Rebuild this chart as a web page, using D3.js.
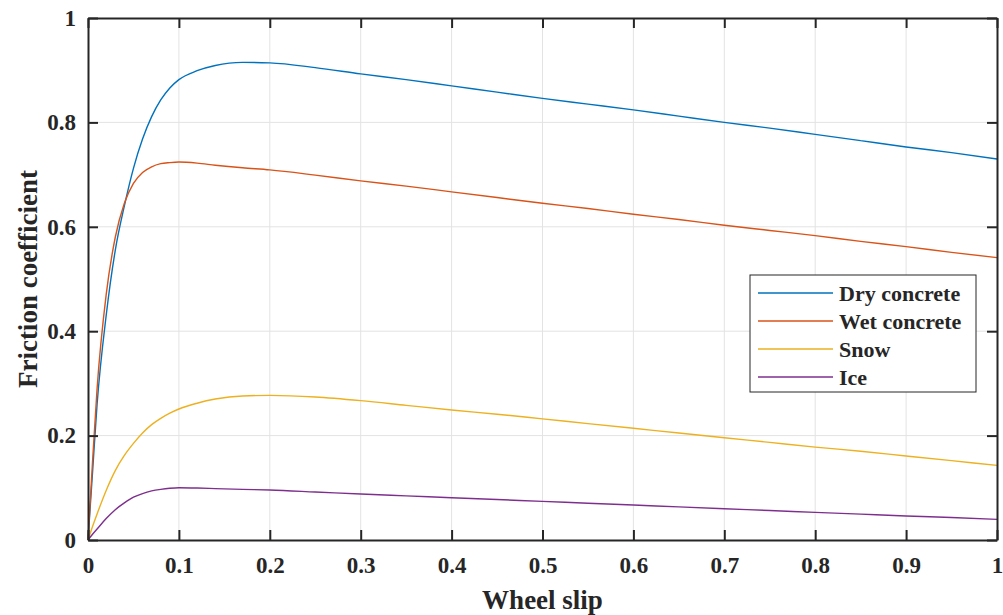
<!DOCTYPE html>
<html>
<head>
<meta charset="utf-8">
<script src="https://cdn.jsdelivr.net/npm/d3@7"></script>
<style>
  html, body { margin: 0; padding: 0; background: #ffffff; }
  svg { display: block; }
  text { font-family: "Liberation Serif", "Times New Roman", serif; font-weight: bold; fill: #262626; }
</style>
</head>
<body>
<svg id="chart" width="1003" height="615"></svg>
<script>
// Wheel slip samples (shared by all road surfaces)
const slip = [0, 0.005, 0.01, 0.02, 0.03, 0.04, 0.05, 0.06, 0.07, 0.08, 0.09, 0.10,
              0.12, 0.14, 0.17, 0.20, 0.25, 0.30, 0.35, 0.40, 0.45, 0.50, 0.55,
              0.60, 0.65, 0.70, 0.75, 0.80, 0.85, 0.90, 0.95, 1.00];

// Friction coefficient per surface
const dryConcrete = [0, 0.13, 0.26, 0.43, 0.555, 0.64, 0.712, 0.768, 0.811, 0.843, 0.866, 0.882,
                     0.899, 0.909, 0.915, 0.914, 0.905, 0.893, 0.882, 0.870, 0.858, 0.846, 0.835,
                     0.824, 0.812, 0.800, 0.789, 0.777, 0.765, 0.753, 0.742, 0.730];
const wetConcrete = [0, 0.15, 0.29, 0.47, 0.58, 0.645, 0.683, 0.704, 0.715, 0.721, 0.723, 0.724,
                     0.722, 0.718, 0.713, 0.709, 0.699, 0.688, 0.678, 0.667, 0.656, 0.645, 0.635,
                     0.624, 0.614, 0.603, 0.593, 0.583, 0.572, 0.562, 0.551, 0.541];
const snow        = [0, 0.026, 0.05, 0.095, 0.133, 0.162, 0.185, 0.205, 0.221, 0.233, 0.243, 0.251,
                     0.262, 0.270, 0.276, 0.277, 0.274, 0.267, 0.258, 0.249, 0.241, 0.232, 0.223,
                     0.214, 0.205, 0.196, 0.187, 0.178, 0.170, 0.161, 0.152, 0.143];
const ice         = [0, 0.011, 0.021, 0.041, 0.058, 0.071, 0.082, 0.089, 0.094, 0.097, 0.099, 0.100,
                     0.0995, 0.0985, 0.097, 0.0958, 0.092, 0.088, 0.0845, 0.081, 0.0775, 0.074, 0.0705,
                     0.067, 0.0635, 0.060, 0.0565, 0.053, 0.0495, 0.046, 0.043, 0.0396];

const seriesNames  = ["Dry concrete", "Wet concrete", "Snow", "Ice"];
const seriesValues = [dryConcrete, wetConcrete, snow, ice];
const seriesColors = ["#0072BD", "#D95319", "#EDB120", "#7E2F8E"];

const xTicks = [0, 0.1, 0.2, 0.3, 0.4, 0.5, 0.6, 0.7, 0.8, 0.9, 1];
const yTicks = [0, 0.2, 0.4, 0.6, 0.8, 1];

const margin = { left: 88, right: 1003 - 997, top: 18, bottom: 615 - 540 };
const W = 1003, H = 615;
const svg = d3.select("#chart");

const x = d3.scaleLinear().domain([0, 1]).range([margin.left, W - margin.right]);
const y = d3.scaleLinear().domain([0, 1]).range([H - margin.bottom, margin.top]);

const axisColor = "#262626";
const gridColor = "#e3e3e3";

// Grid
const grid = svg.append("g");
grid.selectAll("line.gx").data(xTicks.slice(1, -1)).join("line")
  .attr("x1", d => x(d)).attr("x2", d => x(d))
  .attr("y1", y(0)).attr("y2", y(1))
  .attr("stroke", gridColor).attr("stroke-width", 1);
grid.selectAll("line.gy").data(yTicks.slice(1, -1)).join("line")
  .attr("x1", x(0)).attr("x2", x(1))
  .attr("y1", d => y(d)).attr("y2", d => y(d))
  .attr("stroke", gridColor).attr("stroke-width", 1);

// Curves
const line = d3.line()
  .x((d, i) => x(slip[i]))
  .y(d => y(d))
  .curve(d3.curveMonotoneX);

svg.append("g").selectAll("path").data(seriesValues).join("path")
  .attr("d", d => line(d))
  .attr("fill", "none")
  .attr("stroke", (d, i) => seriesColors[i])
  .attr("stroke-width", 1.4)
  .attr("stroke-linejoin", "round");

// Axes with inward ticks on all four sides
const tickLen = 10;
const styleAxis = g => {
  g.select(".domain").attr("stroke", axisColor).attr("stroke-width", 2);
  g.selectAll(".tick line").attr("stroke", axisColor).attr("stroke-width", 2);
};

svg.append("g").attr("transform", `translate(0,${y(0)})`)
  .call(d3.axisBottom(x).tickValues(xTicks).tickSizeInner(-tickLen).tickSizeOuter(0)
        .tickPadding(17).tickFormat(d => d3.format("")(d)))
  .call(styleAxis)
  .call(g => g.selectAll(".tick text").attr("font-size", 23).attr("dy", "0.71em")
        .style("font-family", '"Liberation Serif", "Times New Roman", serif').style("font-weight", "bold").attr("fill", axisColor));

svg.append("g").attr("transform", `translate(0,${y(1)})`)
  .call(d3.axisTop(x).tickValues(xTicks).tickSizeInner(-tickLen).tickSizeOuter(0).tickFormat(""))
  .call(styleAxis);

svg.append("g").attr("transform", `translate(${x(0)},0)`)
  .call(d3.axisLeft(y).tickValues(yTicks).tickSizeInner(-tickLen).tickSizeOuter(0)
        .tickPadding(12).tickFormat(d => d3.format("")(d)))
  .call(styleAxis)
  .call(g => g.selectAll(".tick text").attr("font-size", 23)
        .style("font-family", '"Liberation Serif", "Times New Roman", serif').style("font-weight", "bold").attr("fill", axisColor));

svg.append("g").attr("transform", `translate(${x(1)},0)`)
  .call(d3.axisRight(y).tickValues(yTicks).tickSizeInner(-tickLen).tickSizeOuter(0).tickFormat(""))
  .call(styleAxis);

// Axis titles
svg.append("text")
  .attr("x", (x(0) + x(1)) / 2).attr("y", 609)
  .attr("text-anchor", "middle").attr("font-size", 27)
  .text("Wheel slip");

svg.append("text")
  .attr("transform", `translate(37,${(y(0) + y(1)) / 2}) rotate(-90)`)
  .attr("text-anchor", "middle").attr("font-size", 27)
  .text("Friction coefficient");

// Legend
const legend = svg.append("g").attr("transform", "translate(750,275)");
legend.append("rect")
  .attr("x", 0).attr("y", 0).attr("width", 226).attr("height", 117)
  .attr("fill", "#ffffff").attr("stroke", axisColor).attr("stroke-width", 1);
const rows = legend.selectAll("g.row").data(seriesNames).join("g")
  .attr("transform", (d, i) => `translate(0,${18 + i * 28})`);
rows.append("line")
  .attr("x1", 8).attr("x2", 83).attr("y1", 0).attr("y2", 0)
  .attr("stroke", (d, i) => seriesColors[i]).attr("stroke-width", 1.4);
rows.append("text")
  .attr("x", 89).attr("y", 0).attr("dy", "0.35em")
  .attr("font-size", 22)
  .text(d => d);
</script>
</body>
</html>
